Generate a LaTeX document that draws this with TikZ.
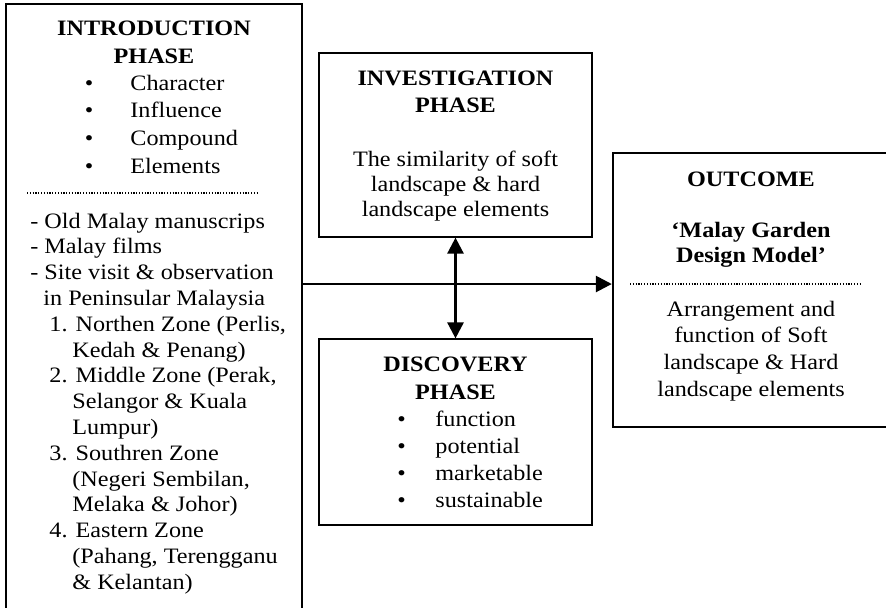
\documentclass[tikz,border=0pt]{standalone}
\usepackage{fontspec}
\setmainfont{Liberation Serif}[FakeStretch=1.1]
\usetikzlibrary{arrows.meta,positioning,fit}
\tikzstyle{box} = [draw,inner sep=0,line width=0.6pt]
\tikzstyle{txt} = [anchor=base,inner sep=0,font=\fontsize{11}{13}\selectfont]
\tikzstyle{hd} = [txt,font=\fontsize{11}{13}\selectfont\bfseries]
\tikzstyle{sep} = [line width=0.6pt,dash pattern=on 0.6pt off 0.8pt]
\tikzstyle{flow} = [line width=1.3pt,-{Triangle[length=8pt,width=8pt]}]
\tikzstyle{flowboth} = [line width=1.3pt,{Triangle[length=8pt,width=8pt]}-{Triangle[length=8pt,width=8pt]}]

\begin{document}
\begin{tikzpicture}[x=0.5pt,y=-0.5pt]
      \useasboundingbox (0,0) rectangle (886,607);
      \clip (0,0) rectangle (886,607);
      % boxes
      \node[box,line width=0.8pt,fit={(6,4) (302,650)}] (intro) {};
      \node[box,fit={(319,53) (592,237)}] (inv) {};
      \node[box,fit={(319,339) (592,525)}] (disc) {};
      \node[box,line width=1.2pt,fit={(613,153) (950,427)}] (out) {};
      % introduction phase
      \node[hd] (ih1) at (154,35) {INTRODUCTION};
      \node[hd] (ih2) at (154,63) {PHASE};
      \foreach \t [count=\i from 0] in {Character,Influence,Compound,Elements} {
        \node[txt] (ib\i) at (89,90+27.7*\i) {\textbullet};
        \node[txt,anchor=base west] (it\i) at (130,90+27.7*\i) {\t};
      }
      \draw[sep] (27,193) -- (258,193);
      \foreach \x/\t [count=\i from 0] in {30/{- Old Malay manuscrips},
          30/{- Malay films}, 30/{- Site visit \& observation},
          43/{in Peninsular Malaysia}, 49/{1. Northen Zone (Perlis,},
          72/{Kedah \& Penang)}, 49/{2. Middle Zone (Perak,},
          72/{Selangor \& Kuala}, 72/{Lumpur)}, 49/{3. Southren Zone},
          72/{(Negeri Sembilan,}, 72/{Melaka \& Johor)},
          49/{4. Eastern Zone}, 72/{(Pahang, Terengganu},
          72/{\& Kelantan)}} {
        \node[txt,anchor=base west] (il\i) at (\x,228+25.8*\i) {\t};
      }
      % investigation phase
      \node[hd] (vh1) at (455.5,85) {INVESTIGATION};
      \node[hd] (vh2) at (455.5,112.7) {PHASE};
      \foreach \t [count=\i from 0] in {The similarity of soft,
          landscape \& hard, landscape elements} {
        \node[txt] (vt\i) at (455.5,166+25.4*\i) {\t};
      }
      % discovery phase
      \node[hd] (dh1) at (455.5,371.7) {DISCOVERY};
      \node[hd] (dh2) at (455.5,399) {PHASE};
      \foreach \t [count=\i from 0] in {function,potential,marketable,sustainable} {
        \node[txt] (db\i) at (401.7,426+27.3*\i) {\textbullet};
        \node[txt,anchor=base west] (dt\i) at (435,426+27.3*\i) {\t};
      }
      % outcome
      \node[hd] (oh1) at (751,186) {OUTCOME};
      \node[hd] (oh2) at (751,237) {`Malay Garden};
      \node[hd] (oh3) at (751,262.7) {Design Model'};
      \draw[sep] (630,284) -- (861,284);
      \foreach \t [count=\i from 0] in {Arrangement and,function of Soft,
          landscape \& Hard,landscape elements} {
        \node[txt] (ot\i) at (751,316+26.9*\i) {\t};
      }
      % connectors
      \coordinate (hy) at (0,284);
      \draw[flow] (intro.east |- hy) -- (out.west |- hy);
      \draw[flowboth] (inv.south) -- (disc.north);
\end{tikzpicture}
\end{document}
